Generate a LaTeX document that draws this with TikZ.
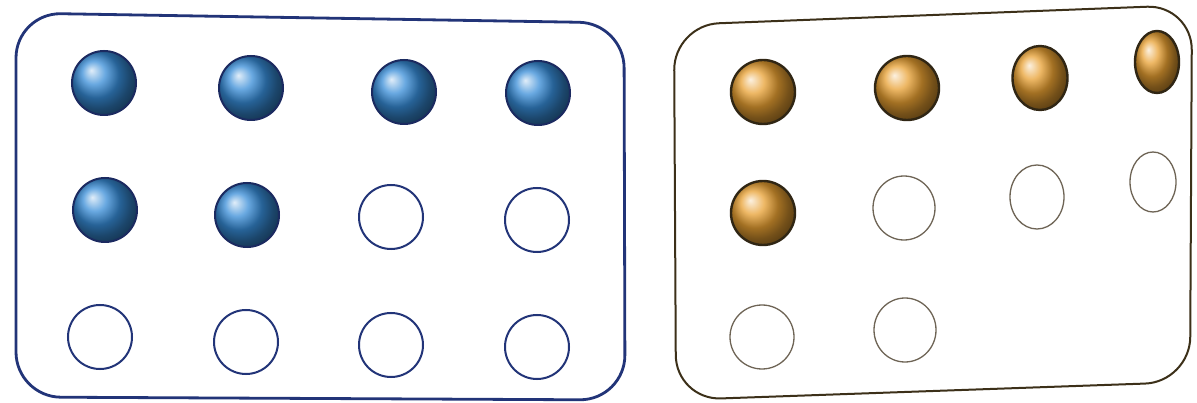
\documentclass[tikz,border=0pt]{standalone}
\usetikzlibrary{shapes.geometric}
\definecolor{navy}{RGB}{34,52,120}
\definecolor{blueball}{RGB}{55,140,215}
\definecolor{orangeball}{RGB}{232,160,50}
\definecolor{brownline}{RGB}{60,48,25}
\definecolor{greyline}{RGB}{110,100,85}
\tikzset{
  frameL/.style={draw=navy, line width=2.8pt, rounded corners=45pt},
  frameR/.style={draw=brownline, line width=2pt, rounded corners=45pt},
  bluedot/.style={ellipse, draw=navy!80!black, line width=2pt, shading=ball, ball color=blueball, minimum width=64pt, minimum height=64pt, inner sep=0pt},
  blueempty/.style={ellipse, draw=navy, line width=2pt, fill=white, minimum width=64pt, minimum height=64pt, inner sep=0pt},
  orangedot/.style={ellipse, draw=brownline!80!black, line width=2.4pt, shading=ball, ball color=orangeball, minimum width=64pt, minimum height=64pt, inner sep=0pt},
  orangeempty/.style={ellipse, draw=greyline, line width=1.3pt, fill=white, minimum width=64pt, minimum height=64pt, inner sep=0pt}
}
\begin{document}
\begin{tikzpicture}[x=1pt,y=-1pt]
\useasboundingbox[fill=white] (0,0) rectangle (1197,403);
% left frame
\draw[frameL] (16,13) -- (624,23) -- (625,400) -- (16,397) -- cycle;
% right frame
\draw[frameR] (674,25) -- (1192,5) -- (1190,382) -- (676,400) -- cycle;
% left balls
\node[bluedot] (l11) at (104,83) {};
\node[bluedot] (l12) at (251,88) {};
\node[bluedot] (l13) at (404,92) {};
\node[bluedot] (l14) at (538,93) {};
\node[bluedot] (l21) at (105,210) {};
\node[bluedot] (l22) at (247,215) {};
\node[blueempty] (l23) at (391,217) {};
\node[blueempty] (l24) at (537,220) {};
\node[blueempty] (l31) at (100,337) {};
\node[blueempty] (l32) at (246,342) {};
\node[blueempty] (l33) at (391,345) {};
\node[blueempty] (l34) at (537,347) {};
% right balls
\node[orangedot] (r11) at (763,92) {};
\node[orangedot] (r12) at (907,88) {};
\node[orangedot, minimum width=55pt] (r13) at (1040,78) {};
\node[orangedot, minimum width=44pt, minimum height=62pt] (r14) at (1157,62) {};
\node[orangedot] (r21) at (763,213) {};
\node[orangeempty, minimum width=62pt] (r22) at (904,208) {};
\node[orangeempty, minimum width=54pt] (r23) at (1037,197) {};
\node[orangeempty, minimum width=46pt, minimum height=60pt] (r24) at (1153,182) {};
\node[orangeempty] (r31) at (762,337) {};
\node[orangeempty, minimum width=62pt] (r32) at (905,330) {};
\end{tikzpicture}
\end{document}
